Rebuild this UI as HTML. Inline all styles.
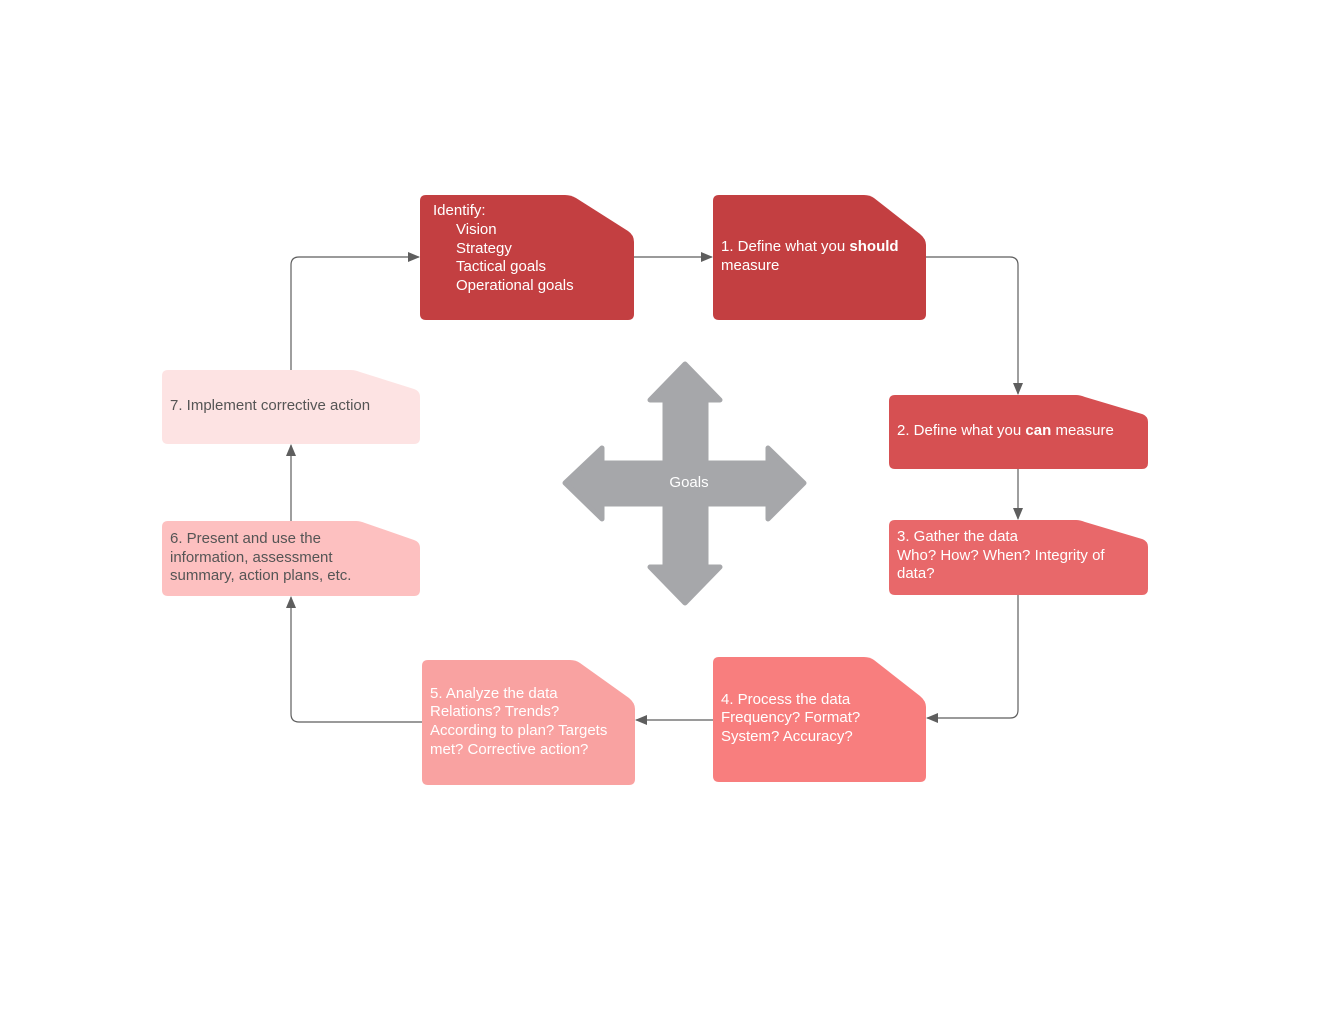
<!DOCTYPE html>
<html><head><meta charset="utf-8"><style>
html,body{margin:0;padding:0;background:#fff;}
svg{display:block}
text{font-family:"Liberation Sans",sans-serif;font-size:15px;}
</style></head><body>
<svg width="1327" height="1030" viewBox="0 0 1327 1030" xmlns="http://www.w3.org/2000/svg">
<defs>
<marker id="a" markerWidth="12" markerHeight="10" refX="11" refY="5" orient="auto" markerUnits="userSpaceOnUse">
<path d="M0,0 L12,5 L0,10 Z" fill="#5e5e5e"/>
</marker>
</defs>
<g fill="none" stroke="#5e5e5e" stroke-width="1.2">
<path d="M634,257 H712" marker-end="url(#a)"/>
<path d="M926,257 H1010 Q1018,257 1018,265 V394" marker-end="url(#a)"/>
<path d="M1018,469 V519" marker-end="url(#a)"/>
<path d="M1018,595 V710 Q1018,718 1010,718 H927" marker-end="url(#a)"/>
<path d="M713,720 H636" marker-end="url(#a)"/>
<path d="M422,722 H299 Q291,722 291,714 V597" marker-end="url(#a)"/>
<path d="M291,521 V445" marker-end="url(#a)"/>
<path d="M291,370 V265 Q291,257 299,257 H419" marker-end="url(#a)"/>
</g>
<path d="M426,195 H565 Q571,195 576,198 L628,231 Q634,235 634,242 V314 Q634,320 628,320 H426 Q420,320 420,314 V201 Q420,195 426,195Z" fill="#c33f41"/>
<path d="M719,195 H864 Q870,195 874,198 L920,234 Q926,239 926,245 V314 Q926,320 920,320 H719 Q713,320 713,314 V201 Q713,195 719,195Z" fill="#c33f41"/>
<path d="M895,395 H1076 Q1080,395 1085,397 L1142,414 Q1148,416 1148,422 V463 Q1148,469 1142,469 H895 Q889,469 889,463 V401 Q889,395 895,395Z" fill="#d65052"/>
<path d="M895,520 H1076 Q1080,520 1085,522 L1142,539 Q1148,541 1148,547 V589 Q1148,595 1142,595 H895 Q889,595 889,589 V526 Q889,520 895,520Z" fill="#e8686a"/>
<path d="M719,657 H864 Q870,657 874,660 L920,696 Q926,701 926,707 V776 Q926,782 920,782 H719 Q713,782 713,776 V663 Q713,657 719,657Z" fill="#f87e7e"/>
<path d="M428,660 H570 Q576,660 580,663 L629,698 Q635,703 635,709 V779 Q635,785 629,785 H428 Q422,785 422,779 V666 Q422,660 428,660Z" fill="#f9a2a1"/>
<path d="M168,521 H356 Q360,521 365,523 L414,540 Q420,542 420,548 V590 Q420,596 414,596 H168 Q162,596 162,590 V527 Q162,521 168,521Z" fill="#fdc0c0"/>
<path d="M168,370 H351 Q355,370 360,372 L414,389 Q420,391 420,397 V438 Q420,444 414,444 H168 Q162,444 162,438 V376 Q162,370 168,370Z" fill="#fde3e3"/>
<polygon points="685,364 720,400 706,400 706,463 768,463 768,448 804,483 768,519 768,504 706,504 706,567 720,567 685,603 650,567 665,567 665,504 602,504 602,519 565,483 602,448 602,463 665,463 665,400 650,400" fill="#a6a7aa" stroke="#a6a7aa" stroke-width="5" stroke-linejoin="round"/>
<text x="689" y="487" fill="#fff" text-anchor="middle">Goals</text>
<g fill="#fff">
<text x="433" y="215">Identify:</text>
<text x="456" y="234">Vision</text>
<text x="456" y="253">Strategy</text>
<text x="456" y="271">Tactical goals</text>
<text x="456" y="290">Operational goals</text>
<text x="721" y="251">1. Define what you <tspan font-weight="bold">should</tspan></text>
<text x="721" y="270">measure</text>
<text x="897" y="435">2. Define what you <tspan font-weight="bold">can</tspan> measure</text>
<text x="897" y="541">3. Gather the data</text>
<text x="897" y="560">Who? How? When? Integrity of</text>
<text x="897" y="578">data?</text>
<text x="721" y="704">4. Process the data</text>
<text x="721" y="722">Frequency? Format?</text>
<text x="721" y="741">System? Accuracy?</text>
<text x="430" y="698">5. Analyze the data</text>
<text x="430" y="716">Relations? Trends?</text>
<text x="430" y="735">According to plan? Targets</text>
<text x="430" y="754">met? Corrective action?</text>
</g>
<g fill="#555">
<text x="170" y="543">6. Present and use the</text>
<text x="170" y="562">information, assessment</text>
<text x="170" y="580">summary, action plans, etc.</text>
<text x="170" y="410">7. Implement corrective action</text>
</g>
</svg>
</body></html>
